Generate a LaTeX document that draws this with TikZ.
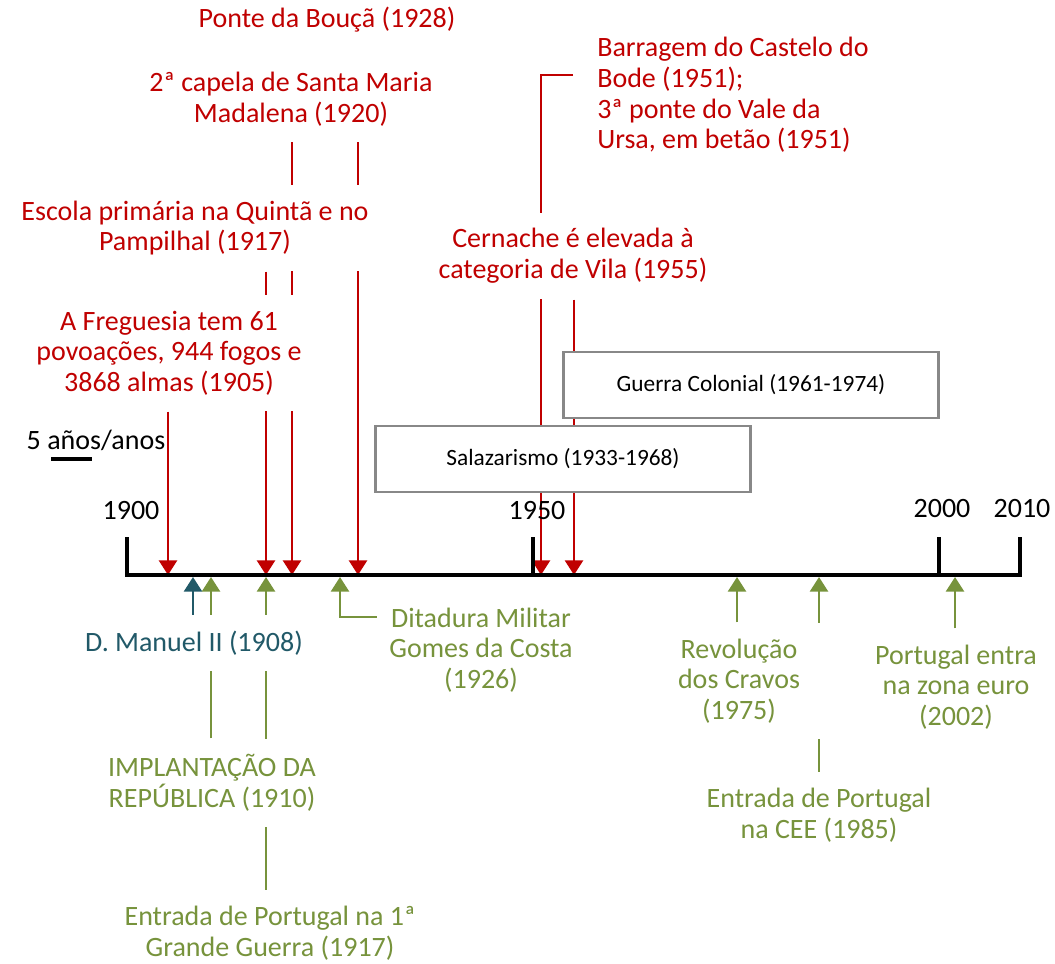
\documentclass[tikz,border=0pt]{standalone}
\usepackage{fontspec}
\setmainfont{Carlito}
\usetikzlibrary{positioning,calc,arrows.meta}

\definecolor{evred}{HTML}{C00000}
\definecolor{evgreen}{HTML}{77933C}
\definecolor{evteal}{HTML}{215968}
\definecolor{boxgray}{HTML}{888888}

\pgfdeclarelayer{background}
\pgfsetlayers{background,main}

\newcommand{\evfont}{\fontsize{21}{23}\selectfont}
\newcommand{\boxfont}{\fontsize{17.5}{20}\selectfont}

\tikzset{
  evtext/.style={fill=white, align=center, font=\evfont, inner xsep=9pt, inner ysep=12pt},
  redlbl/.style={evtext, text=evred},
  greenlbl/.style={evtext, text=evgreen},
  yearlbl/.style={font=\evfont, inner sep=2pt},
  period/.style={draw=boxgray, line width=2pt, fill=white, font=\boxfont,
    minimum width=281pt, minimum height=49.5pt},
  downarrow/.style={color=evred, line width=2pt, -{Triangle[width=13.5pt,length=11pt]}},
  uparrow/.style={color=evgreen, line width=2pt, shorten >=1.5pt, -{Triangle[width=13.5pt,length=11pt]}}
}

\begin{document}
\begin{tikzpicture}[x=0.75pt,y=0.75pt,yscale=-1,xscale=1]
\useasboundingbox (0,0) rectangle (1055,963);

% Axis
\draw [line width=3pt, line join=miter] (127,537) -- (127,575) -- (1020,575) -- (1020,537);
\foreach \x in {533,939} {
  \draw [line width=3pt] (\x,537) -- (\x,575);
}

% Year points on the axis
\foreach \yr/\x in {1905/168,1908/193,1910/211,1917/266,1920/292,1926/340,1928/358,1951/541,1955/574,1975/737,1985/819,2002/955} {
  \coordinate (t\yr) at (\x,575);
}

% Year labels
\node [yearlbl] (l1900) at (131,511) {1900};
\node [yearlbl] (l1950) at (537,511) {1950};
\node [yearlbl] (l2000) at (942,509) {2000};
\node [yearlbl] (l2010) at (1022,509) {2010};

% Scale
\node [yearlbl] (scale) at (96,440) {5 años/anos};
\draw [line width=3pt] (51,459) -- (92,459);

% Local events (above)
\node [redlbl, inner ysep=19pt] (ponte) at (327,20) {Ponte da Bouçã (1928)};
\node [redlbl] (capela) at (291,99) {2ª capela de Santa Maria\\Madalena (1920)};
\node [redlbl] (escola) at (195,228) {Escola primária na Quintã e no\\Pampilhal (1917)};
\node [redlbl] (freguesia) at (169,353) {A Freguesia tem 61\\povoações, 944 fogos e\\3868 almas (1905)};
\node [redlbl, align=left, anchor=west] (barragem) at (585,95) {Barragem do Castelo do\\Bode (1951);\\3ª ponte do Vale da\\Ursa, em betão (1951)};
\node [redlbl] (cernache) at (573,256) {Cernache é elevada à\\categoria de Vila (1955)};

% Periods
\node [period] (salazar) at (563,459) {Salazarismo (1933-1968)};
\node [period] (guerra) at (751,385) {Guerra Colonial (1961-1974)};

% National events (below)
\node [evtext, text=evteal] (manuel) at (194,643) {D. Manuel II (1908)};
\node [greenlbl] (republica) at (212,783) {IMPLANTAÇÃO DA\\REPÚBLICA (1910)};
\node [greenlbl] (grguerra) at (270,933) {Entrada de Portugal na 1ª\\Grande Guerra (1917)};
\node [greenlbl] (ditadura) at (481,650) {Ditadura Militar\\Gomes da Costa\\(1926)};
\node [greenlbl, minimum width=135pt] (cravos) at (739,681) {Revolução\\dos Cravos\\(1975)};
\node [greenlbl] (cee) at (819,815) {Entrada de Portugal\\na CEE (1985)};
\node [greenlbl] (euro) at (956,687) {Portugal entra\\na zona euro\\(2002)};

% Connectors
\begin{pgfonlayer}{background}
\draw [downarrow] (t1905 |- freguesia.south) -- (t1905);
\draw [downarrow] (t1917 |- escola.south) -- (t1917);
\draw [downarrow] (t1920 |- capela.south) -- (t1920);
\draw [downarrow] (t1928 |- ponte.south) -- (t1928);
\draw [downarrow] ($(barragem.west)+(-12,-20)$) -| (t1951);
\draw [downarrow] (t1955 |- cernache.south) -- (t1955);
\draw [uparrow, color=evteal] (t1908 |- manuel.north) -- (t1908);
\draw [uparrow] (t1910 |- republica.north) -- (t1910);
\draw [uparrow] (t1917 |- grguerra.north) -- (t1917);
\draw [uparrow] ($(ditadura.west)+(0,-33)$) -| (t1926);
\draw [uparrow] (t1975 |- cravos.north) -- (t1975);
\draw [uparrow] (t1985 |- cee.north) -- (t1985);
\draw [uparrow] (t2002 |- euro.north) -- (t2002);
\end{pgfonlayer}

\end{tikzpicture}
\end{document}
